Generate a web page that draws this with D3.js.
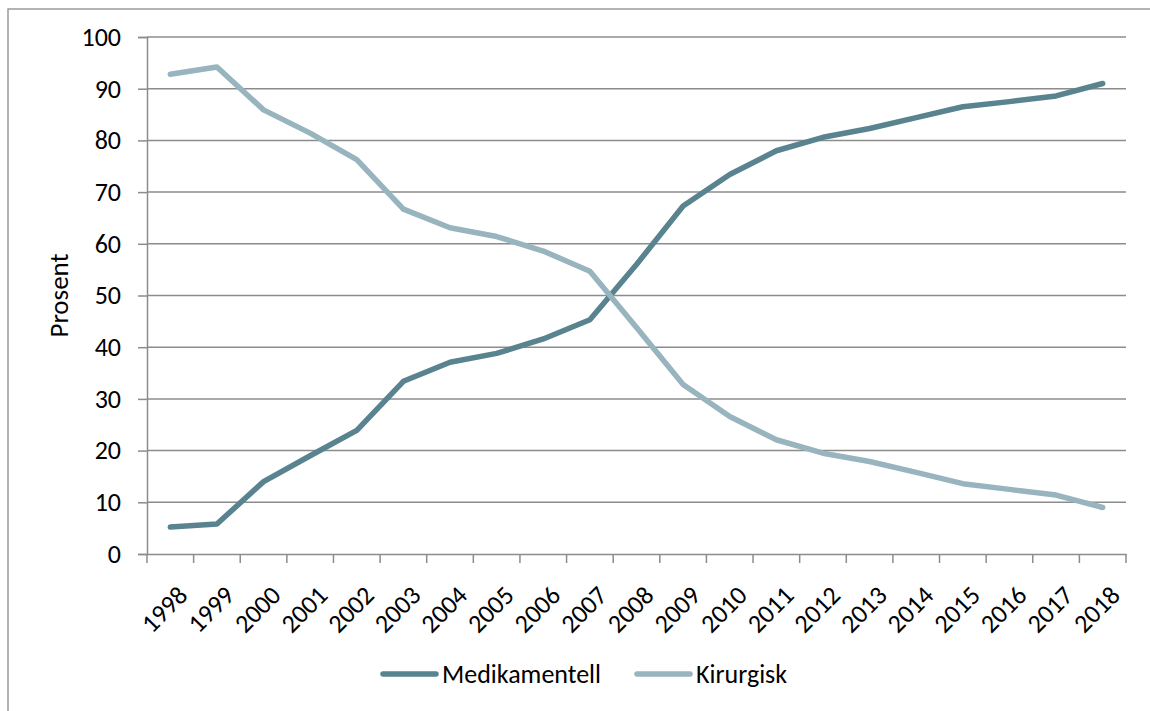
<!DOCTYPE html>
<html>
<head>
<meta charset="utf-8">
<script src="https://cdn.jsdelivr.net/npm/d3@7"></script>
<style>
  body { margin: 0; background: #fff; }
  svg text { font-family: Carlito, Lato, "Liberation Sans", sans-serif; fill: #000; }
</style>
</head>
<body>
<div class="chart"></div>
<script>
var years = ["1998","1999","2000","2001","2002","2003","2004","2005","2006","2007","2008",
             "2009","2010","2011","2012","2013","2014","2015","2016","2017","2018"];
var medikamentell = [5.2, 5.8, 14.0, 19.0, 23.9, 33.4, 37.1, 38.8, 41.6, 45.3, 56.0,
                     67.3, 73.4, 78.0, 80.6, 82.3, 84.4, 86.5, 87.5, 88.6, 91.0];
var kirurgisk = [92.8, 94.2, 85.9, 81.4, 76.3, 66.7, 63.1, 61.4, 58.6, 54.7, 43.8,
                 32.8, 26.6, 22.1, 19.5, 17.9, 15.8, 13.6, 12.5, 11.4, 9.0];
var seriesNames = ["Medikamentell", "Kirurgisk"];
var seriesColors = ["#58838f", "#98b4bf"];
var yTicks = [0, 10, 20, 30, 40, 50, 60, 70, 80, 90, 100];

var width = 1150, height = 711;
var marginLeft = 147, marginRight = 24, marginTop = 37, marginBottom = 157;
var innerW = width - marginLeft - marginRight;
var innerH = height - marginTop - marginBottom;
var fontSize = "26px";

var svg = d3.select('.chart')
  .append('svg')
  .attr("width", width)
  .attr("height", height);

// outer frame
svg.append("rect")
  .attr("x", 8).attr("y", 9)
  .attr("width", width + 20).attr("height", height + 20)
  .attr("fill", "none")
  .attr("stroke", "#8c8c8c")
  .attr("stroke-width", 1.3);

var g = svg.append("g")
  .attr("transform", "translate(" + marginLeft + "," + marginTop + ")");

var xScale = d3.scaleBand()
  .domain(years)
  .range([0, innerW]);

var yScale = d3.scaleLinear()
  .domain([0, 100])
  .range([innerH, 0]);

// gridlines
g.selectAll(".grid")
  .data(yTicks.slice(1))
  .enter()
  .append("line")
  .attr("x1", 0).attr("x2", innerW)
  .attr("y1", function(d) { return yScale(d); })
  .attr("y2", function(d) { return yScale(d); })
  .attr("stroke", "#8c8c8c")
  .attr("stroke-width", 1.5);

// y axis
var yAxis = g.append("g")
  .call(d3.axisLeft(yScale).tickValues(yTicks).tickSize(9).tickPadding(17));
yAxis.selectAll("text").style("font-size", fontSize);

// x axis
var xAxis = g.append("g")
  .attr("transform", "translate(0," + innerH + ")")
  .call(d3.axisBottom(xScale).tickSize(0).tickFormat(""));

// x ticks at category boundaries
var bounds = years.map(function(d) { return xScale(d); }).concat([innerW]);
xAxis.selectAll(".bound")
  .data(bounds)
  .enter()
  .append("line")
  .attr("x1", function(d) { return d; })
  .attr("x2", function(d) { return d; })
  .attr("y1", 0).attr("y2", 9)
  .attr("stroke", "#8c8c8c")
  .attr("stroke-width", 1.5);

xAxis.selectAll(".xlab")
  .data(years)
  .enter()
  .append("text")
  .attr("text-anchor", "end")
  .attr("transform", function(d) {
    return "translate(" + (xScale(d) + xScale.bandwidth() / 2 + 6) + ",30) rotate(-45)";
  })
  .attr("dy", "0.7em")
  .style("font-size", fontSize)
  .text(function(d) { return d; });

g.selectAll(".domain").attr("stroke", "#8c8c8c").attr("stroke-width", 1.5);
g.selectAll(".tick line").attr("stroke", "#8c8c8c").attr("stroke-width", 1.5);

// y title
svg.append("text")
  .attr("transform", "translate(68," + (marginTop + innerH / 2) + ") rotate(-90)")
  .attr("text-anchor", "middle")
  .style("font-size", "27px")
  .text("Prosent");

// lines
var line = d3.line()
  .x(function(d, i) { return xScale(years[i]) + xScale.bandwidth() / 2; })
  .y(function(d) { return yScale(d); });

[medikamentell, kirurgisk].forEach(function(values, k) {
  g.append("path")
    .datum(values)
    .attr("fill", "none")
    .attr("stroke", seriesColors[k])
    .attr("stroke-width", 5.5)
    .attr("stroke-linejoin", "round")
    .attr("stroke-linecap", "round")
    .attr("d", line);
});

// legend
var legendX = [383, 637];
var legend = svg.selectAll(".legend")
  .data(seriesNames)
  .enter()
  .append("g")
  .attr("transform", function(d, i) { return "translate(" + legendX[i] + ",674)"; });

legend.append("line")
  .attr("x1", 0).attr("x2", 53)
  .attr("stroke", function(d, i) { return seriesColors[i]; })
  .attr("stroke-width", 5.5)
  .attr("stroke-linecap", "round");

legend.append("text")
  .attr("x", 59)
  .attr("dy", "0.35em")
  .style("font-size", fontSize)
  .text(function(d) { return d; });
</script>
</body>
</html>
